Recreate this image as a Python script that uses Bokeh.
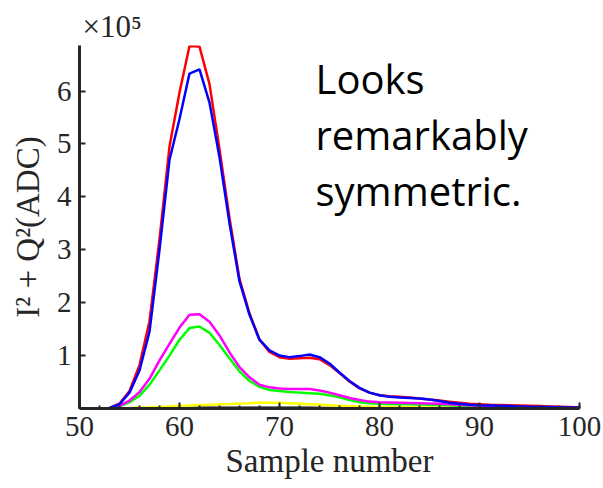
from bokeh.plotting import figure
from bokeh.models import Range1d, FixedTicker, Label, ColumnDataSource, Title
from bokeh.embed import file_html
from bokeh.resources import INLINE

# Sample numbers
sample = list(range(50, 101))

# I^2 + Q^2 in units of 1e5 ADC
red = [0, 0, 0, 0.01, 0.09, 0.33, 0.82, 1.65, 3.2, 4.95,
       5.97, 6.85, 6.84, 6.13, 4.9, 3.6, 2.45, 1.8, 1.3, 1.07,
       0.97, 0.94, 0.95, 0.96, 0.93, 0.82, 0.67, 0.51, 0.38, 0.3,
       0.25, 0.23, 0.22, 0.21, 0.19, 0.17, 0.15, 0.13, 0.11, 0.09,
       0.08, 0.07, 0.065, 0.06, 0.055, 0.05, 0.045, 0.04, 0.035, 0.03, 0.02]
blue = [0, 0, 0, 0.01, 0.08, 0.3, 0.72, 1.45, 3.0, 4.7,
        5.47, 6.33, 6.41, 5.78, 4.75, 3.5, 2.4, 1.77, 1.3, 1.1,
        1.0, 0.97, 0.99, 1.02, 0.97, 0.85, 0.68, 0.52, 0.39, 0.3,
        0.25, 0.22, 0.21, 0.2, 0.19, 0.17, 0.14, 0.11, 0.09, 0.07,
        0.06, 0.055, 0.05, 0.045, 0.04, 0.035, 0.03, 0.03, 0.025, 0.02, 0.02]
magenta = [0, 0, 0, 0, 0.05, 0.15, 0.31, 0.56, 0.91, 1.22,
           1.53, 1.77, 1.78, 1.64, 1.38, 1.06, 0.78, 0.59, 0.45, 0.40,
           0.38, 0.37, 0.37, 0.37, 0.34, 0.30, 0.25, 0.2, 0.16, 0.13,
           0.12, 0.115, 0.11, 0.105, 0.1, 0.095, 0.09, 0.08, 0.07, 0.06,
           0.055, 0.05, 0.045, 0.04, 0.04, 0.035, 0.03, 0.03, 0.025, 0.02, 0.02]
green = [0, 0, 0, 0, 0.04, 0.12, 0.24, 0.45, 0.72, 1.0,
         1.3, 1.52, 1.55, 1.43, 1.2, 0.95, 0.70, 0.52, 0.41, 0.35,
         0.33, 0.31, 0.30, 0.29, 0.28, 0.25, 0.21, 0.16, 0.12, 0.10,
         0.09, 0.085, 0.08, 0.08, 0.075, 0.07, 0.065, 0.06, 0.05, 0.045,
         0.04, 0.035, 0.035, 0.03, 0.03, 0.025, 0.02, 0.02, 0.015, 0.015, 0.01]
yellow = [0, 0, 0, 0, 0.005, 0.01, 0.02, 0.025, 0.035, 0.04,
          0.05, 0.055, 0.065, 0.07, 0.08, 0.085, 0.095, 0.1, 0.11, 0.11,
          0.11, 0.1, 0.09, 0.08, 0.07, 0.06, 0.05, 0.045, 0.04, 0.035,
          0.03, 0.028, 0.026, 0.024, 0.022, 0.02, 0.018, 0.016, 0.014, 0.012,
          0.01, 0.01, 0.009, 0.008, 0.008, 0.007, 0.006, 0.006, 0.005, 0.005, 0.005]
black = [0, 0, 0, 0, 0, 0, 0.002, 0.003, 0.004, 0.006,
         0.008, 0.01, 0.012, 0.013, 0.014, 0.015, 0.015, 0.015, 0.015, 0.015,
         0.015, 0.014, 0.013, 0.012, 0.011, 0.01, 0.009, 0.008, 0.007, 0.006,
         0.005, 0.005, 0.004, 0.004, 0.004, 0.003, 0.003, 0.003, 0.002, 0.002,
         0.002, 0.002, 0.002, 0.001, 0.001, 0.001, 0.001, 0.001, 0.001, 0.001, 0.001]

x_ticks = [50, 60, 70, 80, 90, 100]
x_minor = list(range(50, 101, 2))
y_ticks = [1, 2, 3, 4, 5, 6]
note_lines = ["Looks", "remarkably", "symmetric."]

src = ColumnDataSource(dict(x=sample, red=red, blue=blue, magenta=magenta,
                            green=green, yellow=yellow, black=black))

INK = "#262626"
SERIF = "Liberation Serif"

p = figure(width=603, height=488, output_backend="svg", toolbar_location=None,
           x_range=Range1d(50, 100), y_range=Range1d(0, 6.86))
p.min_border_left = 79
p.min_border_right = 24
p.min_border_top = 45
p.min_border_bottom = 80
p.outline_line_color = None
p.grid.visible = False
p.background_fill_color = "white"
p.border_fill_color = "white"

p.title = Title(text="\u00d710\u2075", align="left", offset=3,
                text_font=SERIF, text_font_size="31px", text_color=INK,
                text_font_style="normal", standoff=4)

for col, color in [("black", "#000000"), ("yellow", "#ffff00"), ("green", "#00ff00"),
                   ("magenta", "#ff00ff"), ("red", "#ff0000"), ("blue", "#0000ff")]:
    p.line("x", col, source=src, line_color=color, line_width=2.5)

for ax in (p.xaxis[0], p.yaxis[0]):
    ax.axis_line_color = INK
    ax.axis_line_width = 3
    ax.major_tick_line_color = INK
    ax.major_tick_line_width = 2
    ax.major_tick_in = 6
    ax.major_tick_out = 0
    ax.minor_tick_line_color = INK
    ax.minor_tick_line_width = 2
    ax.minor_tick_in = 3
    ax.minor_tick_out = 0
    ax.major_label_text_font = SERIF
    ax.major_label_text_font_size = "29px"
    ax.major_label_text_color = INK
    ax.axis_label_text_font = SERIF
    ax.axis_label_text_font_size = "33px"
    ax.axis_label_text_color = INK
    ax.axis_label_text_font_style = "normal"

p.xaxis[0].ticker = FixedTicker(ticks=x_ticks, minor_ticks=x_minor)
p.yaxis[0].ticker = FixedTicker(ticks=y_ticks, minor_ticks=[])
p.xaxis[0].axis_label = "Sample number"
p.yaxis[0].axis_label = "I\u00b2 + Q\u00b2(ADC)"
p.xaxis[0].major_label_standoff = 8
p.xaxis[0].axis_label_standoff = 4
p.yaxis[0].major_label_standoff = 8
p.yaxis[0].axis_label_standoff = 8

for txt, yy in zip(note_lines, [6.24, 5.17, 4.12]):
    p.add_layout(Label(x=73.6, y=yy, text=txt, text_font="Open Sans",
                       text_font_size="40px", text_color="black",
                       text_baseline="alphabetic"))

open("out.html", "w").write(file_html(p, INLINE))
